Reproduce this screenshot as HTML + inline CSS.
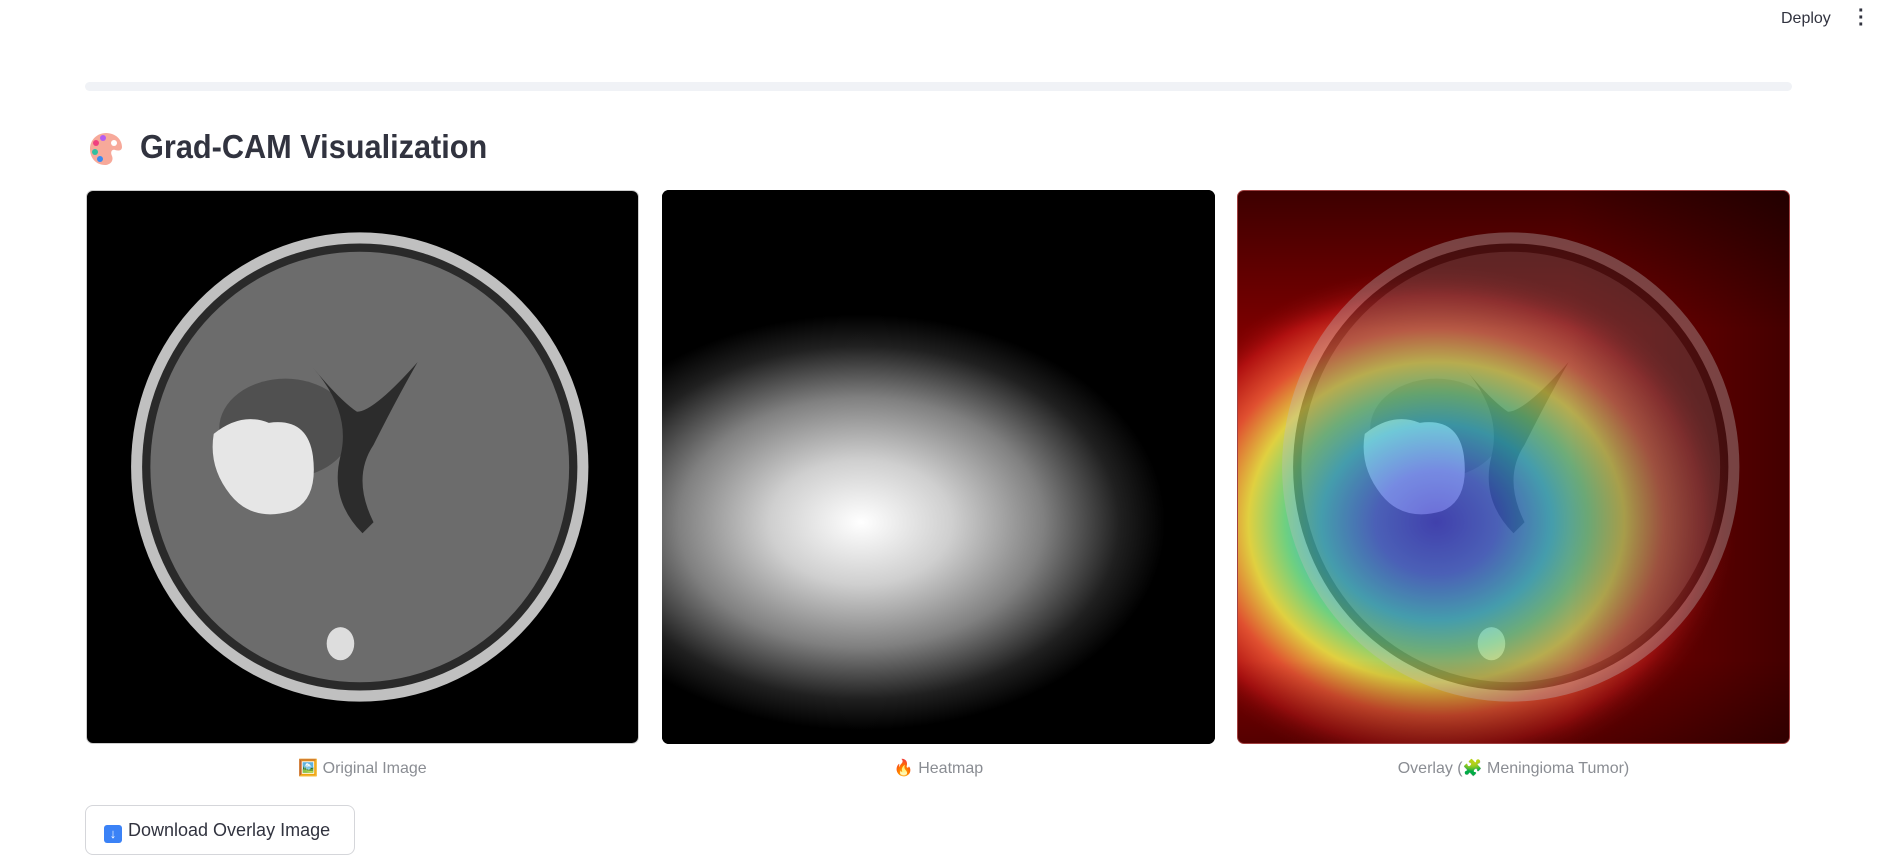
<!DOCTYPE html>
<html><head><meta charset="utf-8"><style>
body{margin:0;width:1882px;height:840px;background:#fff;overflow:hidden;font-family:"Liberation Sans",sans-serif;position:relative}
.abs{position:absolute}
.panel{position:absolute;top:190px;width:553px;height:554px;border-radius:7px;overflow:hidden}
.cap{position:absolute;top:758px;font-size:16px;color:#8a8d93;text-align:center;width:553px}
</style></head><body>
<div class="abs" style="left:1781px;top:10px;font-size:16px;color:#31333f">Deploy</div>
<div class="abs" style="left:1858px;top:8px;font-size:20px;color:#31333f;font-weight:bold;line-height:7px">·<br>·<br>·</div>
<div class="abs" style="left:85px;top:82px;width:1707px;height:9px;background:#f0f2f6;border-radius:5px"></div>
<svg class="abs" style="left:88px;top:131px" width="36" height="36" viewBox="0 0 36 36">
<path d="M18 2 C28 2 34 9 34 16 C34 20 30 20 27 19 C24 18 22 21 24 25 C26 30 22 34 17 34 C8 34 2 27 2 18 C2 9 9 2 18 2Z" fill="#f7a99a"/>
<circle cx="15" cy="7" r="3" fill="#b45cf0"/><circle cx="8" cy="12" r="3" fill="#f04080"/><circle cx="7" cy="21" r="3" fill="#30c0a0"/><circle cx="12" cy="28" r="3" fill="#3a8af0"/><circle cx="26" cy="12" r="3" fill="#fff"/></svg>
<div class="abs" style="left:140px;top:128px;font-size:33px;font-weight:bold;color:#31333f;transform:scaleX(0.93);transform-origin:left">Grad-CAM Visualization</div>

<svg width="0" height="0" style="position:absolute"><defs>
<g id="brain">
<ellipse cx="49.5" cy="50" rx="41.5" ry="42.5" fill="#c0c0c0"/>
<ellipse cx="49.5" cy="50" rx="39.5" ry="40.5" fill="#2a2a2a"/>
<ellipse cx="49.5" cy="50" rx="38" ry="39" fill="#6c6c6c"/>
<ellipse cx="36" cy="43" rx="12" ry="9" fill="#505050"/>
<path d="M41 32 Q48 40 46 48 Q44 56 50 62 L52 60 Q48 52 52 46 Q56 38 60 31 Q52 40 49 40 Q46 38 41 32Z" fill="#2c2c2c"/>
<path d="M23 44 Q28 40 33 42 Q40 41 41 48 Q42 56 37 58 Q30 60 26 55 Q22 50 23 44Z" fill="#e6e6e6"/>
<ellipse cx="46" cy="82" rx="2.5" ry="3" fill="#ddd"/>
</g>
<radialGradient id="hg" cx="0.36" cy="0.6" r="0.5" gradientTransform="translate(0.36 0.6) scale(1.1 0.75) translate(-0.36 -0.6)">
<stop offset="0" stop-color="#fff"/><stop offset="0.3" stop-color="#cfcfcf"/><stop offset="0.6" stop-color="#808080"/><stop offset="0.85" stop-color="#202020"/><stop offset="1" stop-color="#000"/></radialGradient>
<radialGradient id="jet" cx="0.36" cy="0.6" r="0.55" gradientTransform="translate(0.36 0.6) scale(1 0.85) translate(-0.36 -0.6)">
<stop offset="0" stop-color="#2a2ad0"/><stop offset="0.2" stop-color="#3a5ae0"/><stop offset="0.38" stop-color="#30b8d0"/><stop offset="0.5" stop-color="#6fd080"/><stop offset="0.62" stop-color="#e0d040"/><stop offset="0.75" stop-color="#e05030"/><stop offset="0.88" stop-color="#b01010"/><stop offset="1" stop-color="#800000" stop-opacity="0"/></radialGradient>
<linearGradient id="lr" x1="0" x2="1"><stop offset="0" stop-color="#000" stop-opacity="0"/><stop offset="0.6" stop-color="#000" stop-opacity="0"/><stop offset="1" stop-color="#000" stop-opacity="0.45"/></linearGradient>
<linearGradient id="tb" x1="0" x2="0" y1="0" y2="1"><stop offset="0" stop-color="#000" stop-opacity="0.5"/><stop offset="0.25" stop-color="#000" stop-opacity="0"/><stop offset="0.85" stop-color="#000" stop-opacity="0"/><stop offset="1" stop-color="#000" stop-opacity="0.3"/></linearGradient>
</defs></svg>

<div class="panel" style="left:86px;background:#000;border:1px solid #ccc;box-sizing:border-box">
<svg width="100%" height="100%" viewBox="0 0 100 100" preserveAspectRatio="none"><use href="#brain"/></svg></div>
<div class="panel" style="left:662px;background:#000">
<svg width="100%" height="100%" viewBox="0 0 100 100" preserveAspectRatio="none"><rect width="100" height="100" fill="url(#hg)"/></svg></div>
<div class="panel" style="left:1237px;background:#7a0000;border:1px solid #a04040;box-sizing:border-box">
<svg width="100%" height="100%" viewBox="0 0 100 100" preserveAspectRatio="none"><rect width="100" height="100" fill="url(#jet)"/><rect width="100" height="100" fill="url(#lr)"/><rect width="100" height="100" fill="url(#tb)"/><g opacity="0.35"><use href="#brain"/></g></svg></div>

<div class="cap" style="left:86px">🖼️ Original Image</div>
<div class="cap" style="left:662px">🔥 Heatmap</div>
<div class="cap" style="left:1237px">Overlay (🧩 Meningioma Tumor)</div>

<div class="abs" style="left:85px;top:805px;width:270px;height:50px;border:1px solid #d5d6da;border-radius:8px;box-sizing:border-box;font-size:18px;color:#31333f;padding:14px 0 0 18px"><span style="display:inline-block;width:18px;height:18px;background:#3b82f6;border-radius:3px;color:#fff;font-size:13px;text-align:center;line-height:18px;vertical-align:-2px;margin-right:6px">↓</span>Download Overlay Image</div>
</body></html>
